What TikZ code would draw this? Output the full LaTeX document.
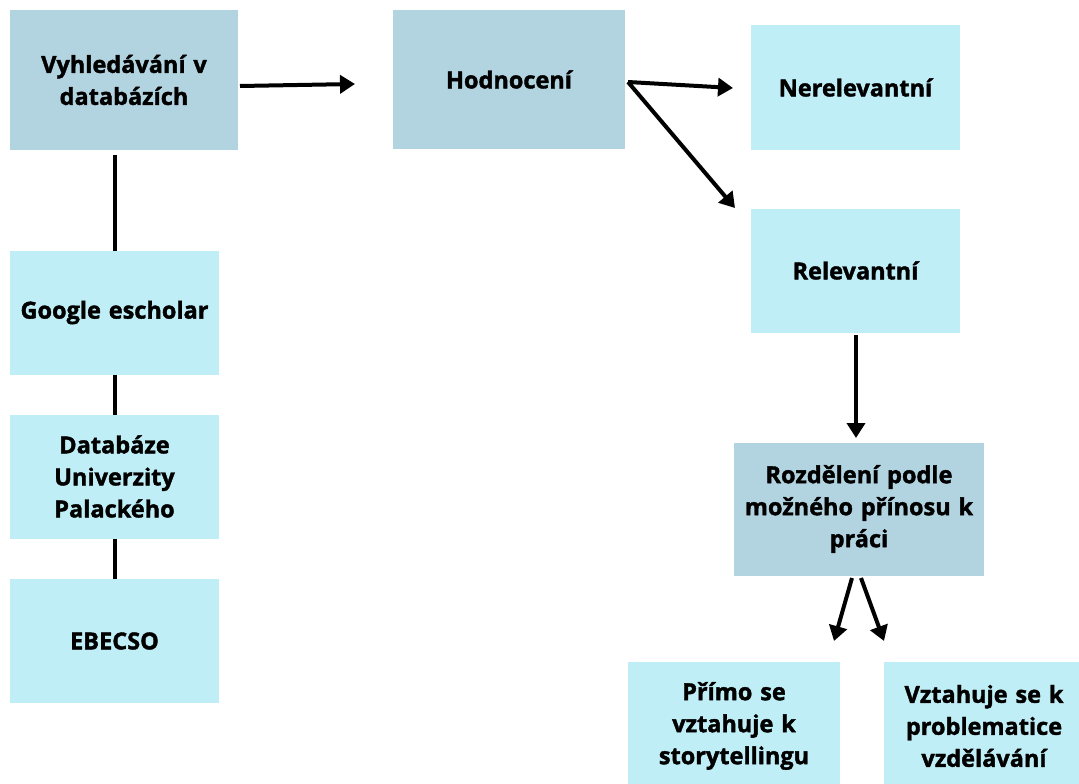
\documentclass[tikz,border=0pt]{standalone}
\usepackage{fontspec}
\setmainfont{Open Sans}[BoldFeatures={FakeBold=1.6}]
\usetikzlibrary{arrows.meta}
\definecolor{darkbox}{RGB}{178,212,224}
\definecolor{lightbox}{RGB}{192,238,246}
\tikzset{
  box/.style={rectangle, inner sep=0pt, align=center, font=\fontsize{23.5}{32}\selectfont\bfseries, text=black},
  darkb/.style={box, fill=darkbox},
  lightb/.style={box, fill=lightbox},
  arr/.style={line width=4pt, -{Triangle[length=15pt,width=18pt]}},
  conn/.style={line width=4pt}
}
\begin{document}
\begin{tikzpicture}[x=1pt,y=-1pt]
\useasboundingbox (0,0) rectangle (1079,784);
\fill[white] (0,0) rectangle (1079,784);
\begin{scope}
\clip (0,0) rectangle (1079,784);
% vertical connector (behind boxes)
\coordinate (v0) at (115,155);
\coordinate (v1) at (115,703);
\draw[conn] (v0) -- (v1);

\node[darkb, minimum width=228pt, minimum height=139pt, text width=226pt] (A) at (124,80) {Vyhledávání v\\databázích};
\node[darkb, minimum width=232pt, minimum height=138pt, text width=226pt] (B) at (509,79.5) {Hodnocení};
\node[lightb, minimum width=209pt, minimum height=124pt, text width=207pt] (C) at (855.5,87.5) {Nerelevantní};
\node[lightb, minimum width=209pt, minimum height=124pt, text width=207pt] (D) at (855.5,270.5) {Relevantní};
\node[darkb, minimum width=250pt, minimum height=133pt, text width=248pt] (E) at (859,509) {Rozdělení podle\\možného přínosu k\\práci};
\node[lightb, minimum width=212pt, minimum height=128pt, text width=210pt] (F) at (734,726) {Přímo se\\vztahuje k\\storytellingu};
\node[lightb, minimum width=200pt, minimum height=128pt, text width=198pt] (G) at (984,726) {Vztahuje se k\\problematice\\vzdělávání};
\node[lightb, minimum width=209pt, minimum height=124pt, text width=207pt] (H) at (114.5,312.5) {Google escholar};
\node[lightb, minimum width=209pt, minimum height=124pt, text width=207pt] (I) at (114.5,476.5) {Databáze\\Univerzity\\Palackého};
\node[lightb, minimum width=209pt, minimum height=124pt, text width=207pt] (J) at (114.5,641) {EBECSO};
\end{scope}

\coordinate (ab1) at (240,86);
\coordinate (ab2) at (355,84);
\draw[arr] (ab1) -- (ab2);

\coordinate (b0) at (628,82);
\coordinate (bc) at (733,88);
\coordinate (bd) at (735,208);
\draw[arr] (b0) -- (bc);
\draw[arr] (b0) -- (bd);

\coordinate (d0) at (856,335);
\coordinate (de) at (856,438);
\draw[arr] (d0) -- (de);

\coordinate (e0) at (852,578);
\coordinate (ef) at (834,641);
\coordinate (e1) at (861,578);
\coordinate (eg) at (884,641);
\draw[arr] (e0) -- (ef);
\draw[arr] (e1) -- (eg);
\end{tikzpicture}
\end{document}
